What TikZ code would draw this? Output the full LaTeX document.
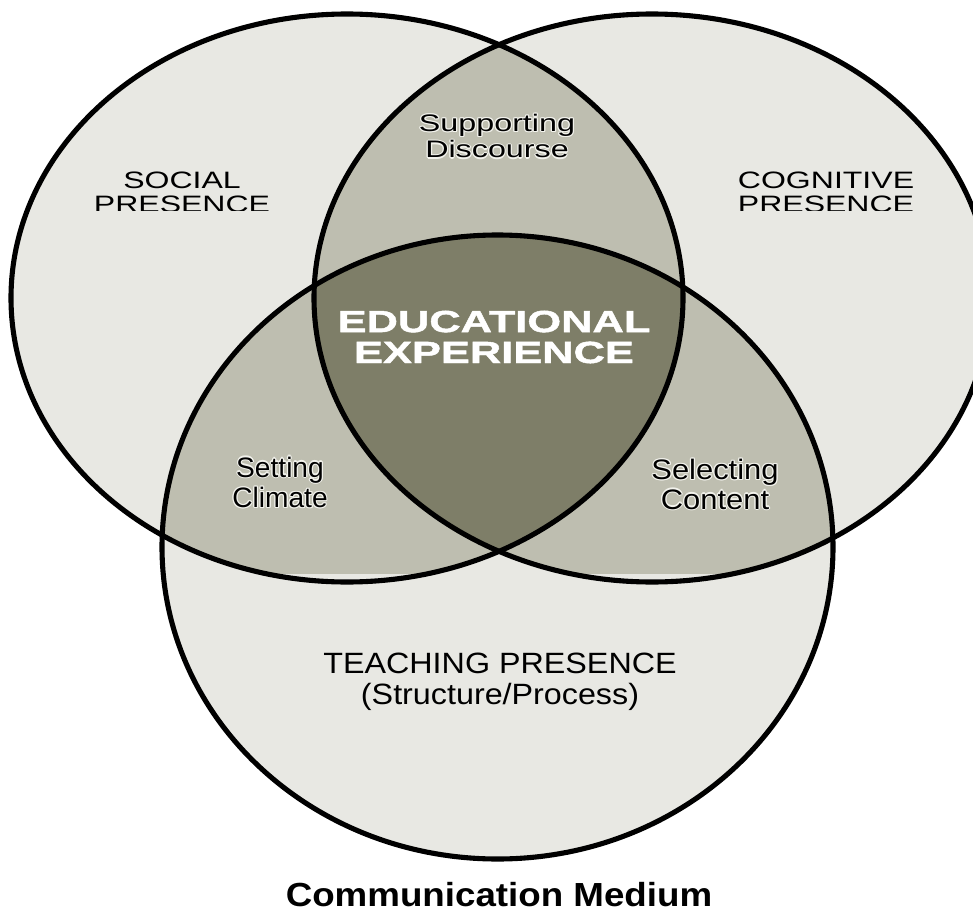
\documentclass[tikz,border=0pt]{standalone}
\usepackage{fontspec}
\setmainfont{Liberation Sans}
\newfontfamily\broadfont[FakeStretch=1.35]{Liberation Sans}
\newfontfamily\widefont[FakeStretch=1.1]{Liberation Sans}
\newfontfamily\heavyfont[FakeStretch=1.42,FakeBold=1.5]{Liberation Sans Bold}
\newfontfamily\mediumfont[FakeStretch=1.1]{Liberation Sans Bold}

\definecolor{paleGray}{RGB}{232,232,227}
\definecolor{midGray}{RGB}{190,190,176}
\definecolor{darkGray}{RGB}{126,126,104}
\definecolor{haloGray}{RGB}{242,242,236}

\tikzset{
rim/.style={draw=black, line width=2.9pt},
presence/.style={inner sep=0pt, anchor=base, align=center,
  font=\broadfont\fontsize{13.5}{13.1}\selectfont},
discourse/.style={inner sep=0pt, anchor=base, align=center,
  font=\broadfont\fontsize{13.6}{12}\selectfont},
overlap/.style={inner sep=0pt, anchor=base, align=center,
  font=\fontsize{16}{14.6}\selectfont},
overlapwide/.style={overlap, font=\widefont\fontsize{16}{15.2}\selectfont},
core/.style={inner sep=0pt, anchor=base, align=center, text=white,
  font=\heavyfont\fontsize{17.4}{17.6}\selectfont},
teaching/.style={inner sep=0pt, anchor=base, align=center,
  font=\widefont\fontsize{16.7}{17.1}\selectfont},
medium/.style={inner sep=0pt, anchor=base,
  font=\mediumfont\fontsize{19}{22}\selectfont}
}

% one line of dark text with a thin pale outline
\newcommand\halo[1]{%
  \makebox[0pt][l]{\color{haloGray}%
    \foreach \dx/\dy in {0.7pt/0pt,0.5pt/0.5pt,0pt/0.7pt,-0.5pt/0.5pt,
                         -0.7pt/0pt,-0.5pt/-0.5pt,0pt/-0.7pt,0.5pt/-0.5pt}
      {\makebox[0pt][l]{\hspace*{\dx}\raisebox{\dy}{#1}}}}%
  #1}

\begin{document}
\begin{tikzpicture}

\useasboundingbox (0,0) rectangle (19.46,-18.22);
\clip (0,0) rectangle (19.46,-18.22);

\coordinate (soc) at (6.94,-5.96);
\coordinate (cog) at (13.04,-5.96);
\coordinate (tea) at (9.95,-10.94);

% the three presences
\fill[paleGray] (soc) ellipse [x radius=6.72, y radius=5.68];
\fill[paleGray] (cog) ellipse [x radius=6.76, y radius=5.68];
\fill[paleGray] (tea) ellipse [x radius=6.71, y radius=6.24];

% pairwise overlaps
\begin{scope}
\clip (soc) ellipse [x radius=6.72, y radius=5.68];
\fill[midGray] (cog) ellipse [x radius=6.76, y radius=5.68];
\end{scope}
\begin{scope}
\clip (-1,-11.46) rectangle (21,1);
\clip (soc) ellipse [x radius=6.72, y radius=5.68];
\fill[midGray] (tea) ellipse [x radius=6.71, y radius=6.24];
\end{scope}
\begin{scope}
\clip (-1,-11.46) rectangle (21,1);
\clip (cog) ellipse [x radius=6.76, y radius=5.68];
\fill[midGray] (tea) ellipse [x radius=6.71, y radius=6.24];
\end{scope}

% centre
\begin{scope}
\clip (soc) ellipse [x radius=6.72, y radius=5.68];
\clip (cog) ellipse [x radius=6.76, y radius=5.68];
\fill[darkGray] (tea) ellipse [x radius=6.71, y radius=6.24];
\end{scope}

% outlines
\draw[rim] (soc) ellipse [x radius=6.72, y radius=5.68];
\draw[rim] (cog) ellipse [x radius=6.76, y radius=5.68];
\draw[rim] (tea) ellipse [x radius=6.71, y radius=6.24];

% labels
\begin{scope}
\clip (0,0) rectangle (19.46,-4.21);
\node[presence] (social) at (3.64,-4.24) {SOCIAL\\PRESENCE};
\node[presence] (cognitive) at (16.52,-4.24) {COGNITIVE\\PRESENCE};
\end{scope}

\node[discourse] (discourse) at (9.94,-3.16)
{\halo{Supporting}\\\halo{Discourse}};
\node[overlap] (climate) at (5.60,-10.15)
{\halo{Setting}\\\halo{Climate}};
\node[overlapwide] (content) at (14.30,-10.18)
{\halo{Selecting}\\\halo{Content}};

\node[core] (experience) at (9.88,-7.26) {EDUCATIONAL\\EXPERIENCE};

\node[teaching] (teaching) at (10.0,-14.08)
{TEACHING PRESENCE\\(Structure/Process)};

\node[medium] (medium) at (9.98,-18.12) {Communication Medium};

\end{tikzpicture}
\end{document}
